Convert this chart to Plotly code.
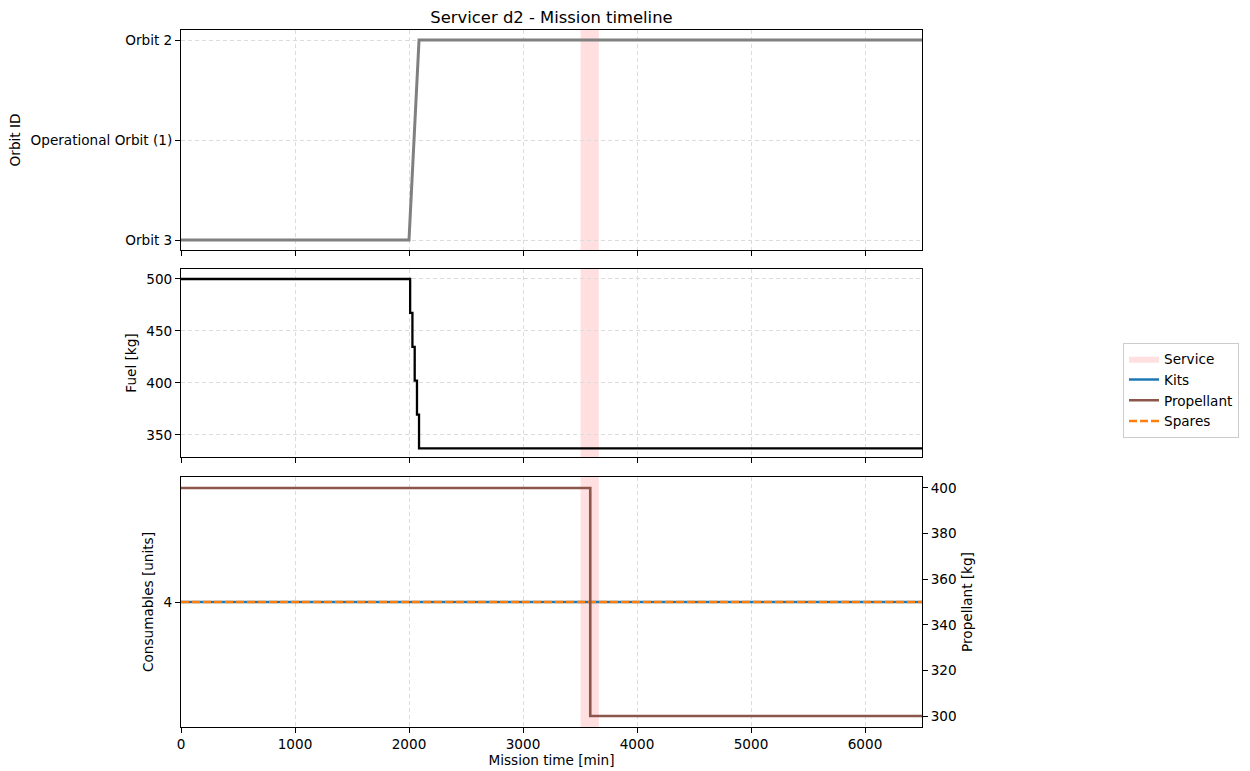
import plotly.graph_objects as go

# Mission timeline data for servicer d2
orbit_labels = ["Orbit 3", "Operational Orbit (1)", "Orbit 2"]
orbit_time = [0, 2000, 2088, 6500]
orbit_idx = [0, 0, 2, 2]

fuel_time = [0, 2010, 2030, 2050, 2070, 2088, 6500]
fuel_kg = [500, 467.4, 434.8, 402.2, 369.6, 337, 337]

prop_time = [0, 3590, 6500]
prop_kg = [400, 300, 300]

cons_time = [0, 6500]
kits_units = [4, 4]
spares_units = [4, 4]

service_start = [3505]
service_end = [3665]

W, H = 1250, 771
FONT = "DejaVu Sans"
FS = 13.6
GRID = "#dcdcdc"
SERVICE_COLOR = "rgba(255,150,150,0.3)"


def xdom(x0, x1):
    return [x0 / W, x1 / W]


def ydom(top, bottom):
    return [1 - bottom / H, 1 - top / H]


fig = go.Figure()

# service legend entry
fig.add_trace(go.Scatter(x=[None], y=[None], mode="lines", fill="toself",
                         fillcolor=SERVICE_COLOR, line=dict(width=0),
                         name="Service", showlegend=True, xaxis="x3", yaxis="y3"))

# orbit panel
fig.add_trace(go.Scatter(x=orbit_time, y=orbit_idx, mode="lines",
                         line=dict(color="#808080", width=3),
                         showlegend=False, xaxis="x", yaxis="y"))

# fuel panel
fig.add_trace(go.Scatter(x=fuel_time, y=fuel_kg, mode="lines", line_shape="hv",
                         line=dict(color="black", width=2.3),
                         showlegend=False, xaxis="x2", yaxis="y2"))

# consumables panel
fig.add_trace(go.Scatter(x=cons_time, y=kits_units, mode="lines",
                         line=dict(color="#1f77b4", width=2.5),
                         name="Kits", xaxis="x3", yaxis="y3"))
fig.add_trace(go.Scatter(x=prop_time, y=prop_kg, mode="lines", line_shape="hv",
                         line=dict(color="#8c564b", width=2.6),
                         name="Propellant", xaxis="x3", yaxis="y4"))
fig.add_trace(go.Scatter(x=cons_time, y=spares_units, mode="lines",
                         line=dict(color="#ff7f0e", width=2.5, dash="8px,3px"),
                         name="Spares", xaxis="x3", yaxis="y3"))

shapes = []
for s, e in zip(service_start, service_end):
    for xr, yr in (("x", "y"), ("x2", "y2"), ("x3", "y3")):
        shapes.append(dict(type="rect", xref=xr, yref=yr + " domain",
                           x0=s, x1=e, y0=0, y1=1, fillcolor=SERVICE_COLOR,
                           line=dict(width=0), layer="below"))

tick_font = dict(family=FONT, size=FS, color="black")
title_font = dict(family=FONT, size=FS, color="black")
axis_common = dict(showline=True, linecolor="black", linewidth=1, mirror=True,
                   ticks="outside", ticklen=5, tickcolor="black",
                   tickfont=tick_font, zeroline=False, automargin=False)
xcommon = dict(axis_common, range=[0, 6500], tickvals=[0, 1000, 2000, 3000, 4000, 5000, 6000],
               showgrid=True, gridcolor=GRID, griddash="4px,3px", gridwidth=1)

fig.update_layout(
    width=W, height=H,
    margin=dict(l=0, r=0, t=0, b=0),
    paper_bgcolor="white", plot_bgcolor="white",
    font=dict(family=FONT, size=FS, color="black"),
    shapes=shapes,
    title=dict(text="Servicer d2 - Mission timeline", x=(181 + 922) / 2 / W,
               xanchor="center", y=1 - 17 / H, yanchor="middle",
               font=dict(family=FONT, size=16.4, color="black")),
    xaxis=dict(xcommon, domain=xdom(181, 922), anchor="y", showticklabels=False),
    xaxis2=dict(xcommon, domain=xdom(181, 922), anchor="y2", matches="x", showticklabels=False),
    xaxis3=dict(xcommon, domain=xdom(181, 922), anchor="y3", matches="x",
                title=dict(text="Mission time [min]", standoff=2, font=title_font)),
    yaxis=dict(axis_common, domain=ydom(30, 250), anchor="x", range=[-0.1, 2.1],
               tickvals=[0, 1, 2], ticktext=orbit_labels,
               showgrid=True, gridcolor=GRID, griddash="4px,3px",
               title=dict(text="Orbit ID", standoff=6, font=title_font)),
    yaxis2=dict(axis_common, domain=ydom(269, 457), anchor="x2", range=[328.8, 509.6],
                tickvals=[350, 400, 450, 500],
                showgrid=True, gridcolor=GRID, griddash="4px,3px",
                title=dict(text="Fuel [kg]", standoff=6, font=title_font)),
    yaxis3=dict(axis_common, domain=ydom(477, 727), anchor="x3", range=[3.78, 4.22],
                tickvals=[4], showgrid=False,
                title=dict(text="Consumables [units]", standoff=6, font=title_font)),
    yaxis4=dict(axis_common, domain=ydom(477, 727), anchor="x3", overlaying="y3",
                side="right", range=[295.2, 404.8], tickvals=[300, 320, 340, 360, 380, 400],
                showgrid=False, mirror=False,
                title=dict(text="Propellant [kg]", standoff=6, font=title_font)),
    legend=dict(x=1123 / W, y=1 - 390 / H, xanchor="left", yanchor="middle",
                bordercolor="#cccccc", borderwidth=1, bgcolor="white",
                font=dict(family=FONT, size=FS), tracegroupgap=0),
)

fig.write_html("out.html")
